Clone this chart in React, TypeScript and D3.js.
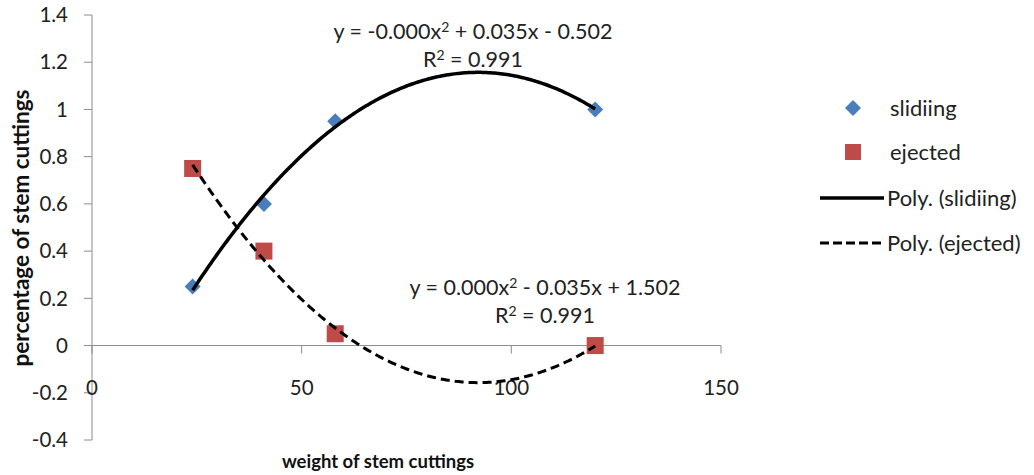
import { useEffect, useRef } from "react";
import * as d3 from "d3";

const weights = [24, 41, 58, 120];
const sliding = [0.25, 0.6, 0.95, 1.0];
const ejected = [0.75, 0.4, 0.05, 0];

const xTicks = [0, 50, 100, 150];
const yTicks = [-0.4, -0.2, 0, 0.2, 0.4, 0.6, 0.8, 1, 1.2, 1.4];

const legendItems = ["slidiing", "ejected", "Poly. (slidiing)", "Poly. (ejected)"];
// equation labels: [before superscript, after superscript], R² value
const eqSliding = ["y = -0.000x", " + 0.035x - 0.502", "0.991"];
const eqEjected = ["y = 0.000x", " - 0.035x + 1.502", "0.991"];

const W = 1034;
const H = 475;
const FONT = "Lato, 'Open Sans', sans-serif";
const BLUE = "#4a7ebb";
const RED = "#be4b48";
const AXIS = "#8c8c8c";

// least squares quadratic fit, returns [c, b, a]
function polyFit(xs: number[], ys: number[]) {
  const s = [0, 0, 0, 0, 0];
  const t = [0, 0, 0];
  xs.forEach((x, i) => {
    for (let k = 0; k < 5; k++) s[k] += Math.pow(x, k);
    for (let k = 0; k < 3; k++) t[k] += Math.pow(x, k) * ys[i];
  });
  const m = [
    [s[0], s[1], s[2], t[0]],
    [s[1], s[2], s[3], t[1]],
    [s[2], s[3], s[4], t[2]],
  ];
  for (let i = 0; i < 3; i++) {
    for (let j = i + 1; j < 3; j++) {
      const f = m[j][i] / m[i][i];
      for (let k = i; k < 4; k++) m[j][k] -= f * m[i][k];
    }
  }
  const c = [0, 0, 0];
  for (let i = 2; i >= 0; i--) {
    let v = m[i][3];
    for (let k = i + 1; k < 3; k++) v -= m[i][k] * c[k];
    c[i] = v / m[i][i];
  }
  return c;
}

export default function App() {
  const svgRef = useRef<SVGSVGElement | null>(null);

  useEffect(() => {
    const svg = d3.select(svgRef.current);
    svg.selectAll("*").remove();

    const x = d3.scaleLinear().domain([0, 150]).range([92, 721]);
    const y = d3.scaleLinear().domain([-0.4, 1.4]).range([440, 15]);

    const g = svg.append("g").attr("font-family", FONT);

    // y axis
    g.append("line")
      .attr("x1", x(0)).attr("x2", x(0))
      .attr("y1", y(1.4)).attr("y2", y(-0.4))
      .attr("stroke", AXIS);
    yTicks.forEach(t => {
      g.append("line")
        .attr("x1", x(0) - 8).attr("x2", x(0))
        .attr("y1", y(t)).attr("y2", y(t))
        .attr("stroke", AXIS);
      g.append("text")
        .attr("x", 68).attr("y", y(t))
        .attr("dy", "0.35em")
        .attr("text-anchor", "end")
        .attr("font-size", 20.5)
        .attr("fill", "#222")
        .text(String(t));
    });

    // x axis crossing at 0
    g.append("line")
      .attr("x1", x(0)).attr("x2", x(150))
      .attr("y1", y(0)).attr("y2", y(0))
      .attr("stroke", AXIS);
    xTicks.forEach(t => {
      g.append("line")
        .attr("x1", x(t)).attr("x2", x(t))
        .attr("y1", y(0)).attr("y2", y(0) + 8)
        .attr("stroke", AXIS);
      g.append("text")
        .attr("x", x(t)).attr("y", 395)
        .attr("text-anchor", "middle")
        .attr("font-size", 20.5)
        .attr("fill", "#222")
        .text(String(t));
    });

    // axis titles
    g.append("text")
      .attr("x", 378).attr("y", 468)
      .attr("text-anchor", "middle")
      .attr("font-size", 18.5)
      .attr("font-weight", "bold")
      .attr("fill", "#111")
      .text("weight of stem cuttings");
    g.append("text")
      .attr("transform", `translate(29,228) rotate(-90)`)
      .attr("text-anchor", "middle")
      .attr("font-size", 22.5)
      .attr("font-weight", "bold")
      .attr("fill", "#111")
      .text("percentage of stem cuttings");

    // markers
    const diamond = (cx: number, cy: number, r: number) =>
      `M${cx},${cy - r}L${cx + r},${cy}L${cx},${cy + r}L${cx - r},${cy}Z`;
    weights.forEach((w, i) => {
      g.append("path")
        .attr("d", diamond(x(w), y(sliding[i]), 8))
        .attr("fill", BLUE);
      g.append("rect")
        .attr("x", x(w) - 8.5).attr("y", y(ejected[i]) - 8.5)
        .attr("width", 17).attr("height", 17)
        .attr("fill", RED);
    });

    // trend lines
    const xmin = d3.min(weights)!;
    const xmax = d3.max(weights)!;
    const xs = d3.range(0, 201).map(i => xmin + (xmax - xmin) * i / 200);
    const line = d3.line<[number, number]>().x(d => x(d[0])).y(d => y(d[1])).curve(d3.curveLinear);
    const fits: [number[], string | null, number][] = [
      [sliding, null, 3.5],
      [ejected, "9,5", 3],
    ];
    fits.forEach(([ys, dash, sw]) => {
      const c = polyFit(weights, ys);
      const pts = xs.map(v => [v, c[0] + c[1] * v + c[2] * v * v] as [number, number]);
      g.append("path")
        .attr("d", line(pts))
        .attr("fill", "none")
        .attr("stroke", "#000")
        .attr("stroke-width", sw)
        .attr("stroke-dasharray", dash);
    });

    // equations
    const eqs: [string[], number, number][] = [
      [eqSliding, 473, 39],
      [eqEjected, 545, 295],
    ];
    const sup = (el: d3.Selection<SVGTextElement, unknown, null, undefined>) =>
      el.append("tspan").attr("dy", -7).attr("font-size", 14).text("2");
    eqs.forEach(([parts, cx, cy]) => {
      const t1 = g.append("text")
        .attr("x", cx).attr("y", cy)
        .attr("text-anchor", "middle")
        .attr("font-size", 21.5)
        .attr("fill", "#222");
      t1.append("tspan").text(parts[0]);
      sup(t1);
      t1.append("tspan").attr("dy", 7).text(parts[1]);
      const t2 = g.append("text")
        .attr("x", cx).attr("y", cy + 28)
        .attr("text-anchor", "middle")
        .attr("font-size", 21.5)
        .attr("fill", "#222");
      t2.append("tspan").text("R");
      sup(t2);
      t2.append("tspan").attr("dy", 7).text(" = " + parts[2]);
    });

    // legend
    const ly = [108, 152, 198, 243];
    g.append("path").attr("d", diamond(853, ly[0], 8)).attr("fill", BLUE);
    g.append("rect").attr("x", 845).attr("y", ly[1] - 8).attr("width", 16).attr("height", 16).attr("fill", RED);
    g.append("line").attr("x1", 820).attr("x2", 884).attr("y1", ly[2]).attr("y2", ly[2])
      .attr("stroke", "#000").attr("stroke-width", 3.5);
    g.append("line").attr("x1", 820).attr("x2", 884).attr("y1", ly[3]).attr("y2", ly[3])
      .attr("stroke", "#000").attr("stroke-width", 3).attr("stroke-dasharray", "9,4");
    legendItems.forEach((t, i) => {
      g.append("text")
        .attr("x", i < 2 ? 890 : 887).attr("y", ly[i])
        .attr("dy", "0.35em")
        .attr("font-size", 22)
        .attr("fill", "#222")
        .text(t);
    });
  }, []);

  return (
    <svg
      ref={svgRef}
      width={W}
      height={H}
      style={{ position: "absolute", left: 0, top: 0, background: "#fff", display: "block" }}
    />
  );
}
